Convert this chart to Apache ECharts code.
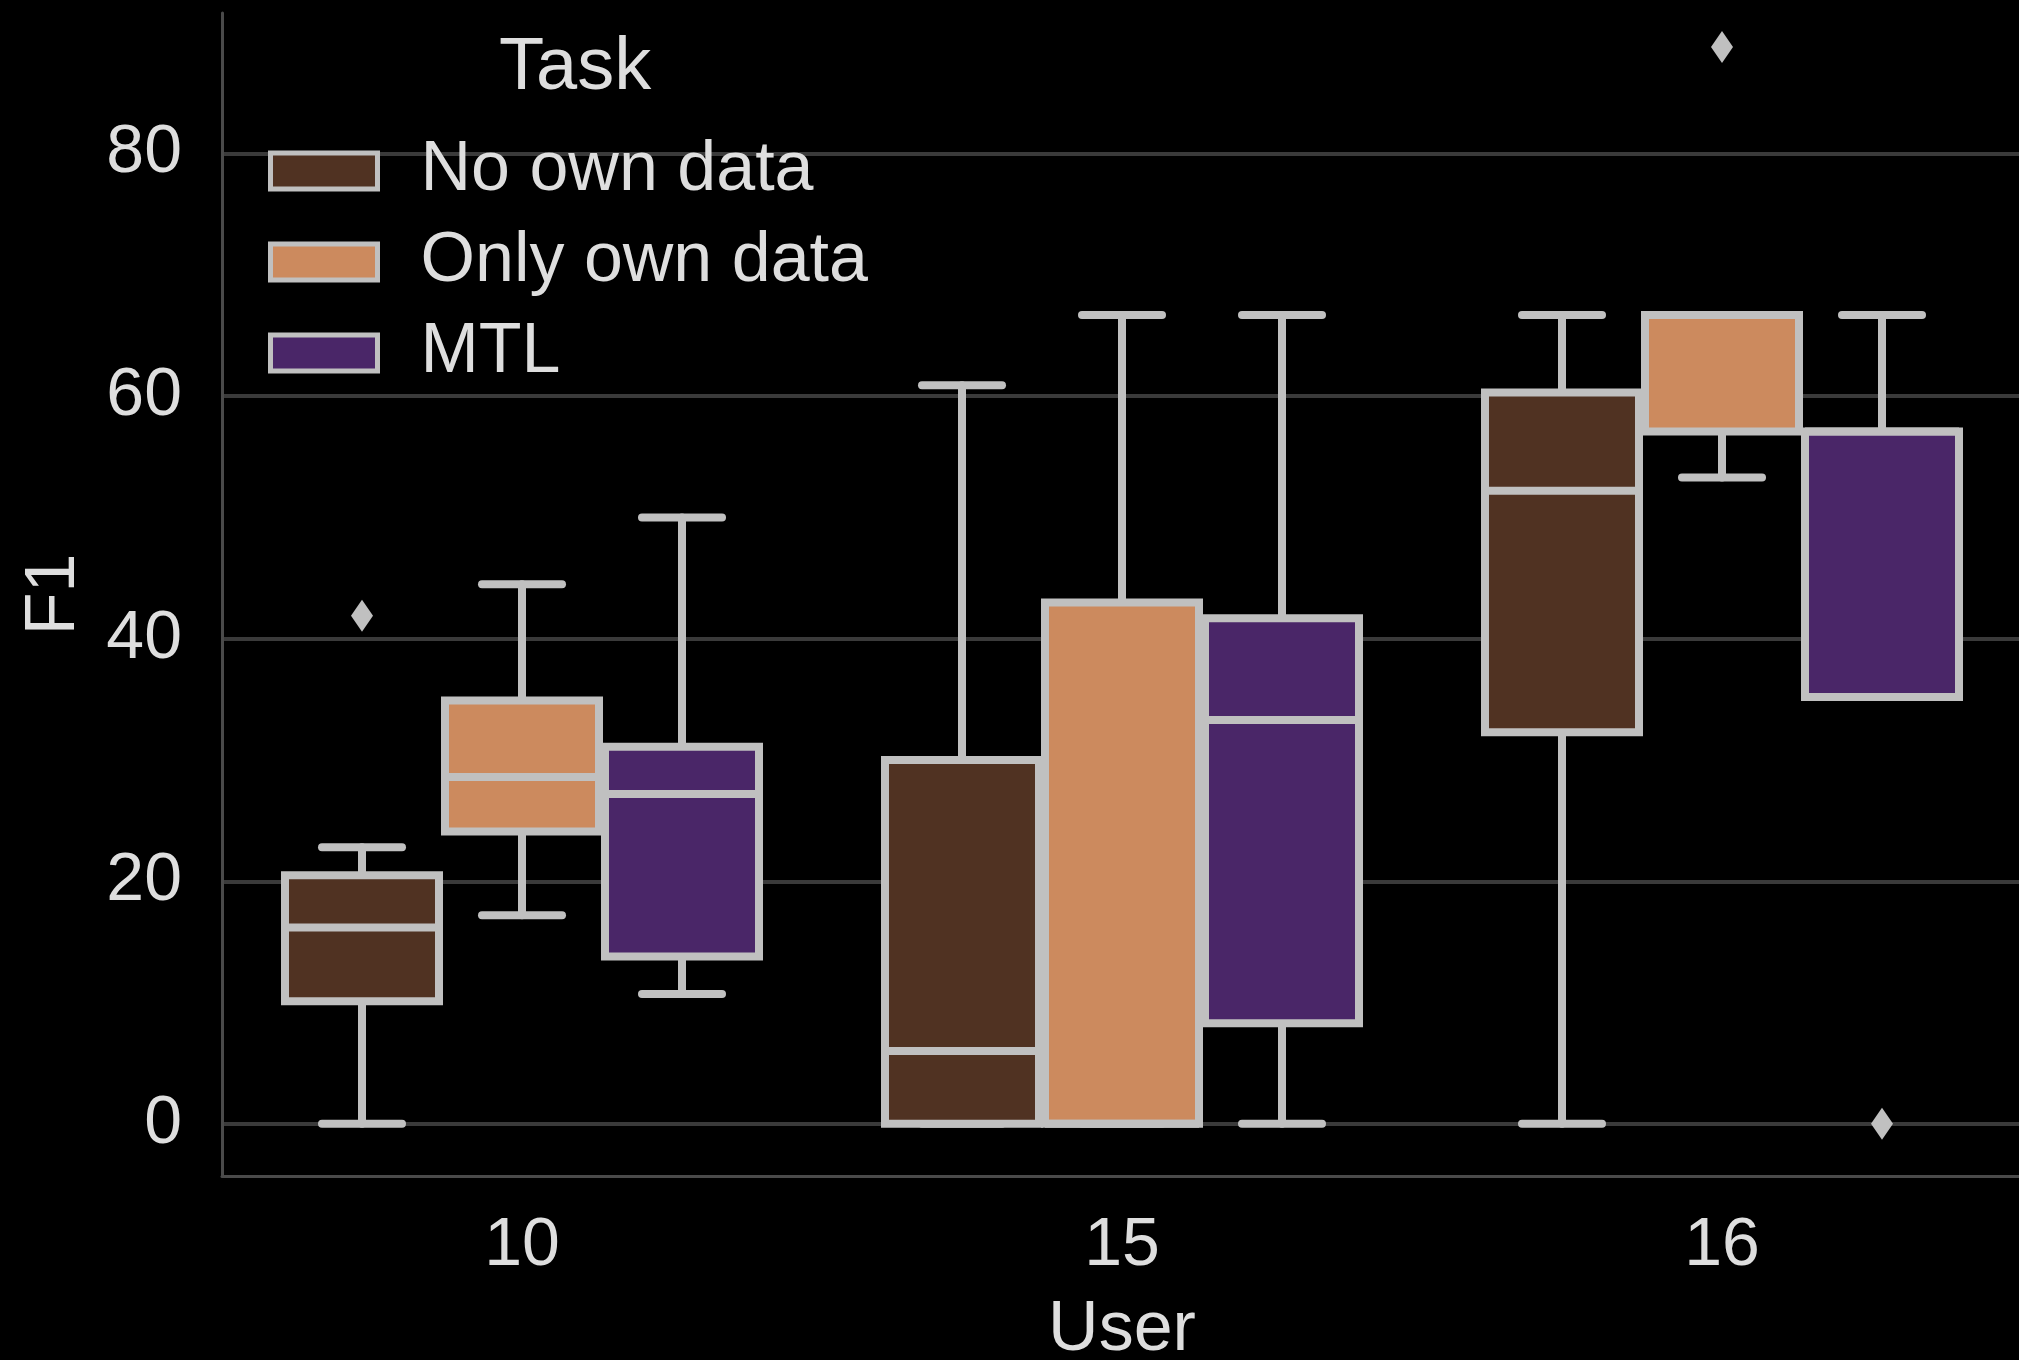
<!DOCTYPE html>
<html>
<head>
<meta charset="utf-8">
<script src="https://cdn.jsdelivr.net/npm/echarts@6/dist/echarts.min.js"></script>
<style>
    html, body { margin: 0; padding: 0; background: #000; }
    #container { width: 2019px; height: 1360px; }
</style>
</head>
<body>
<div id="container"></div>
<script>
// categories
var users = ['10', '15', '16'];
var tasks = ['No own data', 'Only own data', 'MTL'];

// per user: [lower whisker, Q1, median, Q3, upper whisker]
var noOwnData = [[0, 10.1, 16.2, 20.5, 22.8], [0, 0, 6.0, 30.0, 60.9], [0, 32.3, 52.2, 60.3, 66.7]];
var onlyOwnData = [[17.2, 24.1, 28.6, 34.9, 44.5], [0, 0, 0, 43.0, 66.7], [53.3, 57.1, 66.7, 66.7, 66.7]];
var mtlData = [[10.7, 13.8, 27.2, 31.1, 50.0], [0, 8.3, 33.3, 41.7, 66.7], [35.2, 35.2, 57.1, 57.1, 66.7]];

// outliers: [user index, value]
var noOwnOutliers = [[0, 41.9]];
var onlyOwnOutliers = [[2, 88.8]];
var mtlOutliers = [[2, 0]];

var taskColors = ['#503222', '#cc8a5e', '#4a2668'];
var edgeColor = '#c0c0c0';
var textColor = '#dedede';
var fontFamily = 'Liberation Sans';

function edgeStyle() {
    return { stroke: edgeColor, lineWidth: 8, lineCap: 'round' };
}

// box + whiskers, shifted inside the band for task k
function boxRenderer(k) {
    return function (params, api) {
        var c = api.value(0);
        var band = api.size([1, 0])[0];
        var step = band * 0.8 / 3;
        var w = step - 6;
        var x = api.coord([c, 0])[0] + (k - 1) * step;
        var yLo = api.coord([c, api.value(1)])[1];
        var yQ1 = api.coord([c, api.value(2)])[1];
        var yMd = api.coord([c, api.value(3)])[1];
        var yQ3 = api.coord([c, api.value(4)])[1];
        var yHi = api.coord([c, api.value(5)])[1];
        var cap = step / 4;
        return {
            type: 'group',
            children: [
                { type: 'line', shape: { x1: x, y1: yQ1, x2: x, y2: yLo }, style: edgeStyle() },
                { type: 'line', shape: { x1: x, y1: yQ3, x2: x, y2: yHi }, style: edgeStyle() },
                { type: 'line', shape: { x1: x - cap, y1: yLo, x2: x + cap, y2: yLo }, style: edgeStyle() },
                { type: 'line', shape: { x1: x - cap, y1: yHi, x2: x + cap, y2: yHi }, style: edgeStyle() },
                {
                    type: 'rect',
                    shape: { x: x - w / 2, y: yQ3, width: w, height: yQ1 - yQ3 },
                    style: { fill: api.visual('color'), stroke: edgeColor, lineWidth: 8 }
                },
                { type: 'line', shape: { x1: x - w / 2, y1: yMd, x2: x + w / 2, y2: yMd }, style: { stroke: edgeColor, lineWidth: 8 } }
            ]
        };
    };
}

function outlierRenderer(k) {
    return function (params, api) {
        var c = api.value(0);
        var band = api.size([1, 0])[0];
        var step = band * 0.8 / 3;
        var p = api.coord([c, api.value(1)]);
        var x = p[0] + (k - 1) * step;
        var y = p[1];
        return {
            type: 'polygon',
            shape: { points: [[x, y - 16], [x + 11, y], [x, y + 16], [x - 11, y]] },
            style: { fill: edgeColor }
        };
    };
}

function toRows(list) {
    var rows = [];
    for (var i = 0; i < list.length; i++) {
        rows.push([i].concat(list[i]));
    }
    return rows;
}

var boxLists = [noOwnData, onlyOwnData, mtlData];
var outlierLists = [noOwnOutliers, onlyOwnOutliers, mtlOutliers];

var series = [];
for (var k = 0; k < 3; k++) {
    series.push({
        name: tasks[k],
        type: 'custom',
        renderItem: boxRenderer(k),
        itemStyle: { color: taskColors[k] },
        encode: { x: 0, y: [1, 2, 3, 4, 5] },
        data: toRows(boxLists[k])
    });
}
for (var k = 0; k < 3; k++) {
    series.push({
        name: tasks[k] + ' outliers',
        type: 'custom',
        renderItem: outlierRenderer(k),
        itemStyle: { color: edgeColor },
        encode: { x: 0, y: 1 },
        data: outlierLists[k]
    });
}

var myChart = echarts.init(document.getElementById('container'));

var option = {
    backgroundColor: '#000000',
    animation: false,
    textStyle: { fontFamily: fontFamily },
    title: {
        text: 'Task',
        left: 499,
        top: 32,
        padding: 0,
        textStyle: { color: textColor, fontSize: 74, fontWeight: 'normal', fontFamily: fontFamily }
    },
    legend: {
        data: tasks,
        orient: 'vertical',
        left: 263,
        top: 131,
        icon: 'rect',
        itemWidth: 107,
        itemHeight: 36,
        itemGap: 21,
        itemStyle: { borderColor: edgeColor, borderWidth: 5 },
        textStyle: { color: textColor, fontSize: 70, lineHeight: 70, padding: [0, 0, 0, 38], fontFamily: fontFamily }
    },
    grid: {
        left: 222,
        top: 13,
        bottom: 184,
        width: 1800,
        outerBoundsMode: 'none'
    },
    xAxis: {
        type: 'category',
        data: users,
        boundaryGap: true,
        name: 'User',
        nameLocation: 'middle',
        nameGap: 120,
        nameTextStyle: { color: textColor, fontSize: 70, fontFamily: fontFamily },
        axisLine: { onZero: false, lineStyle: { color: '#4a4a4a', width: 3 } },
        axisTick: { show: false },
        axisLabel: { color: textColor, fontSize: 68, margin: 36, fontFamily: fontFamily },
        splitLine: { show: false }
    },
    yAxis: {
        type: 'value',
        min: -4.3,
        max: 91.6,
        splitNumber: 5,
        name: 'F1',
        nameLocation: 'middle',
        nameGap: 132,
        nameTextStyle: { color: textColor, fontSize: 70, fontFamily: fontFamily },
        axisLine: { show: true, lineStyle: { color: '#4a4a4a', width: 3 } },
        axisTick: { show: false },
        axisLabel: { color: textColor, fontSize: 68, margin: 40, showMinLabel: false, showMaxLabel: false, fontFamily: fontFamily },
        splitLine: { show: true, showMinLine: false, showMaxLine: false, lineStyle: { color: '#3a3a3a', width: 4 } }
    },
    series: series
};

myChart.setOption(option);
</script>
</body>
</html>
